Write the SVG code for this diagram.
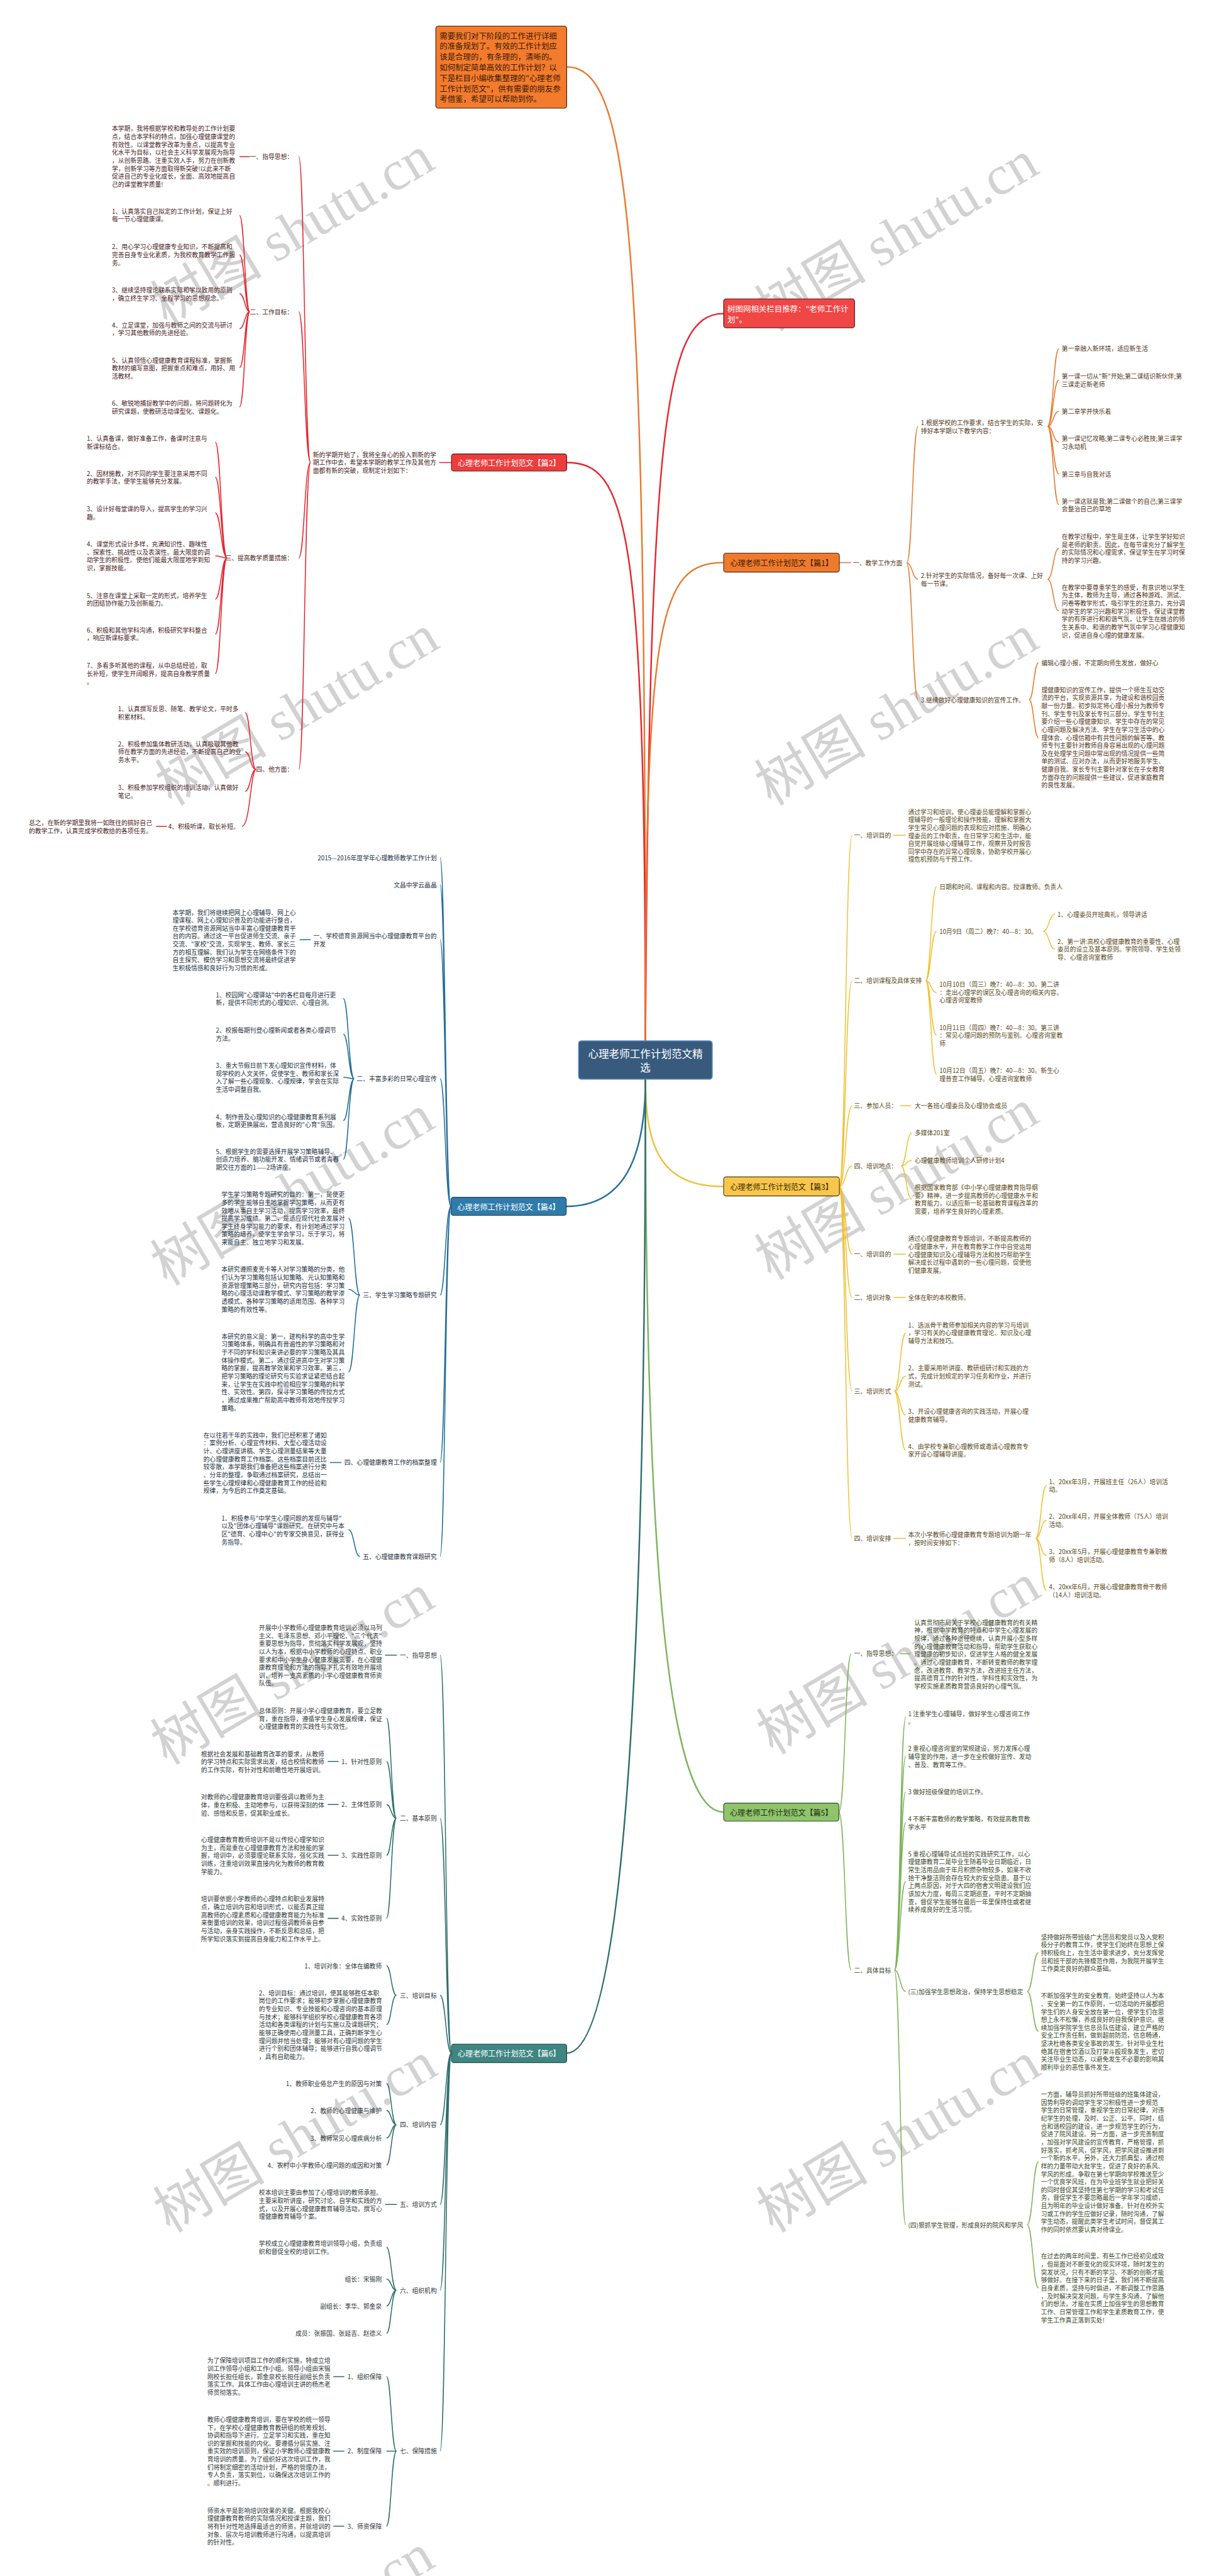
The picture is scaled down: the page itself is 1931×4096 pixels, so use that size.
<svg xmlns="http://www.w3.org/2000/svg" width="1931" height="4096" viewBox="0 0 1931 4096">
<style>
.t{font-family:"Noto Sans CJK SC","Microsoft YaHei","Liberation Sans",sans-serif;font-size:13px;dominant-baseline:central}
.e{text-anchor:end}
.cr{fill:#4a2424}.co{fill:#553618}.cy{fill:#5a4818}.cb{fill:#1e3344}.cg{fill:#3a4a2a}.ct{fill:#2e3a39}
.k{fill:none;stroke-width:2}.m{fill:none;stroke-width:3.2}
.sr{stroke:#e5262d}.so{stroke:#e8782c}.sy{stroke:#f0c035}.sb{stroke:#226e9a}.sg{stroke:#7db35a}.st{stroke:#2d6f6b}
.n{font-family:"Noto Sans CJK SC","Microsoft YaHei",sans-serif;font-size:16px;dominant-baseline:central;text-anchor:middle}
.wm{font-family:"Liberation Serif","Noto Sans CJK SC",serif;font-size:118px;fill:#d2d2d2}
</style>
<g transform="scale(0.754297)">
<rect x="0" y="0" width="2560" height="5429" fill="#ffffff"/>
<g id="watermark">
<text class="wm" transform="translate(352,690) rotate(-30.6)">树图 shutu.cn</text>
<text class="wm" transform="translate(362,1700) rotate(-30.6)">树图 shutu.cn</text>
<text class="wm" transform="translate(352,2712) rotate(-30.6)">树图 shutu.cn</text>
<text class="wm" transform="translate(352,3722) rotate(-30.6)">树图 shutu.cn</text>
<text class="wm" transform="translate(358,4708) rotate(-30.6)">树图 shutu.cn</text>
<text class="wm" transform="translate(352,5745) rotate(-30.6)">树图 shutu.cn</text>
<text class="wm" transform="translate(1626,700) rotate(-30.6)">树图 shutu.cn</text>
<text class="wm" transform="translate(1626,1700) rotate(-30.6)">树图 shutu.cn</text>
<text class="wm" transform="translate(1626,2700) rotate(-30.6)">树图 shutu.cn</text>
<text class="wm" transform="translate(1630,3700) rotate(-30.6)">树图 shutu.cn</text>
<text class="wm" transform="translate(1630,4708) rotate(-30.6)">树图 shutu.cn</text>
</g>
<g id="connectors">
<path class="m so" d="M1361,2194 C1361,500 1330,141 1195,141"/>
<path class="m sr" d="M1361,2194 C1370,900 1400,661 1526,661"/>
<path class="m sr" d="M1361,2194 C1361,1100 1320,975 1195,975"/>
<path class="m so" d="M1361,2194 C1361,1300 1390,1186 1526,1186"/>
<path class="m sy" d="M1361,2275 C1361,2430 1400,2501 1526,2501"/>
<path class="m sb" d="M1361,2275 C1361,2450 1310,2543 1194,2543"/>
<path class="m sg" d="M1361,2275 C1361,3400 1420,3820 1526,3820"/>
<path class="m st" d="M1361,2275 C1361,3700 1300,4328 1195,4328"/>
<path class="k sr" d="M952,975 H926 M527,330 H505 M352,1742 H329"/>
<path class="k sr" d="M655,975 C642,975 642,330 630,330 M655,975 C642,975 642,657 630,657 M655,975 C642,975 642,1176 630,1176 M655,975 C642,975 642,1622 630,1622"/>
<path class="k sr" d="M527,657 C516,657 516,454 505,454 M527,657 C516,657 516,537 505,537 M527,657 C516,657 516,619 505,619 M527,657 C516,657 516,693 505,693 M527,657 C516,657 516,775 505,775 M527,657 C516,657 516,858 505,858"/>
<path class="k sr" d="M479,1176 C466,1176 466,932 454,932 M479,1176 C466,1176 466,1006 454,1006 M479,1176 C466,1176 466,1081 454,1081 M479,1176 C466,1176 466,1172 454,1172 M479,1176 C466,1176 466,1263 454,1263 M479,1176 C466,1176 466,1337 454,1337 M479,1176 C466,1176 466,1420 454,1420"/>
<path class="k sr" d="M540,1622 C528,1622 528,1502 517,1502 M540,1622 C528,1622 528,1585 517,1585 M540,1622 C528,1622 528,1668 517,1668 M540,1622 C528,1622 528,1742 510,1742"/>
<path class="k so" d="M1770,1186 H1795"/>
<path class="k so" d="M1912,1187 C1924,1187 1924,899 1936,899 M1912,1187 C1924,1187 1924,1221 1936,1221 M1912,1187 C1924,1187 1924,1475 1936,1475"/>
<path class="k so" d="M2209,899 C2221,899 2221,735 2233,735 M2209,899 C2221,899 2221,801 2233,801 M2209,899 C2221,899 2221,867 2233,867 M2209,899 C2221,899 2221,932 2233,932 M2209,899 C2221,899 2221,999 2233,999 M2209,899 C2221,899 2221,1064 2233,1064"/>
<path class="k so" d="M2209,1221 C2221,1221 2221,1156 2233,1156 M2209,1221 C2221,1221 2221,1288 2233,1288"/>
<path class="k so" d="M2170,1475 C2180,1475 2180,1397 2190,1397 M2170,1475 C2180,1475 2180,1555 2190,1555"/>
<path class="k sy" d="M1770,2501 C1783,2501 1783,1761 1797,1761 M1770,2501 C1783,2501 1783,2067 1797,2067 M1770,2501 C1783,2501 1783,2331 1797,2331 M1770,2501 C1783,2501 1783,2458 1797,2458 M1770,2501 C1783,2501 1783,2644 1797,2644 M1770,2501 C1783,2501 1783,2735 1797,2735 M1770,2501 C1783,2501 1783,2933 1797,2933 M1770,2501 C1783,2501 1783,3243 1797,3243"/>
<path class="k sy" d="M1884,1761 H1910 M1898,2331 H1921 M1884,2644 H1910 M1884,2735 H1910 M1884,3243 H1910"/>
<path class="k sy" d="M1952,2067 C1963,2067 1963,1869 1975,1869 M1952,2067 C1963,2067 1963,1963 1975,1963 M1952,2067 C1963,2067 1963,2092 1975,2092 M1952,2067 C1963,2067 1963,2182 1975,2182 M1952,2067 C1963,2067 1963,2265 1975,2265"/>
<path class="k sy" d="M2200,1963 C2212,1963 2212,1927 2225,1927 M2200,1963 C2212,1963 2212,2001 2225,2001"/>
<path class="k sy" d="M1900,2458 C1911,2458 1911,2388 1923,2388 M1900,2458 C1911,2458 1911,2446 1923,2446 M1900,2458 C1911,2458 1911,2528 1923,2528"/>
<path class="k sy" d="M1886,2933 C1898,2933 1898,2810 1910,2810 M1886,2933 C1898,2933 1898,2901 1910,2901 M1886,2933 C1898,2933 1898,2983 1910,2983 M1886,2933 C1898,2933 1898,3057 1910,3057"/>
<path class="k sy" d="M2184,3243 C2195,3243 2195,3131 2207,3131 M2184,3243 C2195,3243 2195,3205 2207,3205 M2184,3243 C2195,3243 2195,3279 2207,3279 M2184,3243 C2195,3243 2195,3353 2207,3353"/>
<path class="k sb" d="M951,2543 C939,2543 939,1808 928,1808 M951,2543 C939,2543 939,1865 928,1865 M951,2543 C939,2543 939,1981 928,1981 M951,2543 C939,2543 939,2274 928,2274 M951,2543 C939,2543 939,2730 928,2730 M951,2543 C939,2543 939,3083 928,3083 M951,2543 C939,2543 939,3281 928,3281"/>
<path class="k sb" d="M655,1981 H632 M720,3083 H696"/>
<path class="k sb" d="M747,2274 C735,2274 735,2105 724,2105 M747,2274 C735,2274 735,2180 724,2180 M747,2274 C735,2274 735,2271 724,2271 M747,2274 C735,2274 735,2362 724,2362 M747,2274 C735,2274 735,2444 724,2444"/>
<path class="k sb" d="M759,2730 C747,2730 747,2568 735,2568 M759,2730 C747,2730 747,2718 735,2718 M759,2730 C747,2730 747,2892 735,2892"/>
<path class="k sb" d="M759,3281 C747,3281 747,3225 735,3225"/>
<path class="k sg" d="M1769,3820 C1782,3820 1782,3486 1795,3486 M1769,3820 C1782,3820 1782,4153 1795,4153"/>
<path class="k sg" d="M1898,3486 H1920"/>
<path class="k sg" d="M1886,4153 C1898,4153 1898,3620 1910,3620 M1886,4153 C1898,4153 1898,3702 1910,3702 M1886,4153 C1898,4153 1898,3777 1910,3777 M1886,4153 C1898,4153 1898,3842 1910,3842 M1886,4153 C1898,4153 1898,3966 1910,3966 M1886,4153 C1898,4153 1898,4198 1910,4198 M1886,4153 C1898,4153 1898,4690 1910,4690"/>
<path class="k sg" d="M2166,4198 C2178,4198 2178,4116 2190,4116 M2166,4198 C2178,4198 2178,4282 2190,4282"/>
<path class="k sg" d="M2166,4690 C2178,4690 2178,4557 2190,4557 M2166,4690 C2178,4690 2178,4823 2190,4823"/>
<path class="k st" d="M952,4328 C940,4328 940,3489 928,3489 M952,4328 C940,4328 940,3833 928,3833 M952,4328 C940,4328 940,4206 928,4206 M952,4328 C940,4328 940,4479 928,4479 M952,4328 C940,4328 940,4647 928,4647 M952,4328 C940,4328 940,4828 928,4828 M952,4328 C940,4328 940,5167 928,5167"/>
<path class="k st" d="M837,3489 H812 M714,3713 H691 M714,3804 H691 M714,3911 H691 M714,4044 H691 M837,4647 H812 M726,5010 H703 M726,5167 H703 M726,5325 H703"/>
<path class="k st" d="M836,3833 C825,3833 825,3622 815,3622 M836,3833 C825,3833 825,3713 815,3713 M836,3833 C825,3833 825,3804 815,3804 M836,3833 C825,3833 825,3911 815,3911 M836,3833 C825,3833 825,4044 815,4044"/>
<path class="k st" d="M836,4206 C825,4206 825,4144 815,4144 M836,4206 C825,4206 825,4268 815,4268"/>
<path class="k st" d="M836,4479 C825,4479 825,4392 815,4392 M836,4479 C825,4479 825,4449 815,4449 M836,4479 C825,4479 825,4507 815,4507 M836,4479 C825,4479 825,4564 815,4564"/>
<path class="k st" d="M836,4828 C825,4828 825,4737 815,4737 M836,4828 C825,4828 825,4804 815,4804 M836,4828 C825,4828 825,4861 815,4861 M836,4828 C825,4828 825,4919 815,4919"/>
<path class="k st" d="M836,5167 C825,5167 825,5010 815,5010 M836,5167 C825,5167 825,5167 815,5167 M836,5167 C825,5167 825,5325 815,5325"/>
</g>

<g id="center">
<rect x="1220" y="2194" width="282" height="81" rx="6" fill="#375a7d" stroke="#5d8fc4" stroke-width="2"/>
<text class="n" x="1361" y="2221" style="font-size:22px" fill="#ffffff">心理老师工作计划范文精</text>
<text class="n" x="1361" y="2250" style="font-size:22px" fill="#ffffff">选</text>
</g>

<g id="intro-note">
<rect x="919" y="55" width="276" height="173" rx="5" fill="#f37b2d" stroke="#3a1f0e" stroke-width="1.5"/>
<text class="t" x="927" y="75" style="font-size:16.5px" fill="#3b1a06">需要我们对下阶段的工作进行详细<tspan x="927" dy="22.3">的准备规划了。有效的工作计划应</tspan><tspan x="927" dy="22.3">该是合理的，有条理的，清晰的。</tspan><tspan x="927" dy="22.3">如何制定简单高效的工作计划？以</tspan><tspan x="927" dy="22.3">下是栏目小编收集整理的"心理老师</tspan><tspan x="927" dy="22.3">工作计划范文"，供有需要的朋友参</tspan><tspan x="927" dy="22.3">考借鉴，希望可以帮助到你。</tspan></text>
</g>

<g id="related">
<rect x="1526" y="630" width="276" height="61" rx="5" fill="#f04646" stroke="#4a1010" stroke-width="1.5"/>
<text class="t" x="1534" y="651" style="font-size:16.5px" fill="#ffffff">树图网相关栏目推荐："老师工作计<tspan x="1534" dy="22">划"。</tspan></text>
</g>

<g id="pian2">
<rect x="952" y="957" width="243" height="36" rx="5" fill="#ec3d3d" stroke="#6a1010" stroke-width="1.5"/>
<text class="n" x="1073.5" y="975" fill="#ffffff">心理老师工作计划范文【篇2】</text>
<text class="t cr" x="660" y="958">新的学期开始了，我将全身心的投入到新的学<tspan x="660" dy="16.75">期工作中去，希望本学期的教学工作及其他方</tspan><tspan x="660" dy="16.75">面都有新的突破，现制定计划如下：</tspan></text>
<text class="t cr e" x="618" y="330">一、指导思想：</text>
<text class="t cr e" x="618" y="657">二、工作目标：</text>
<text class="t cr e" x="618" y="1176">三、提高教学质量措施：</text>
<text class="t cr e" x="618" y="1622">四、他方面：</text>
<text class="t cr" x="236" y="271">本学期，我将根据学校和教导处的工作计划要<tspan x="236" dy="16.75">点，结合本学科的特点，加强心理健康课堂的</tspan><tspan x="236" dy="16.75">有效性。以课堂教学改革为重点，以提高专业</tspan><tspan x="236" dy="16.75">化水平为目标，以社会主义科学发展观为指导</tspan><tspan x="236" dy="16.75">，从创新思路、注重实效入手，努力在创新教</tspan><tspan x="236" dy="16.75">学，创新学习等方面取得新突破!以此来不断</tspan><tspan x="236" dy="16.75">促进自己的专业化成长，全面、高效地提高自</tspan><tspan x="236" dy="16.75">己的课堂教学质量!</tspan></text>
<text class="t cr" x="236" y="445">1、认真落实自己拟定的工作计划，保证上好<tspan x="236" dy="16.75">每一节心理健康课。</tspan></text>
<text class="t cr" x="236" y="520">2、用心学习心理健康专业知识，不断提高和<tspan x="236" dy="16.75">完善自身专业化素质，为我校教育教学工作服</tspan><tspan x="236" dy="16.75">务。</tspan></text>
<text class="t cr" x="236" y="611">3、继续坚持理论联系实际和学以致用的原则<tspan x="236" dy="16.75">，确立终生学习、全程学习的思想观念。</tspan></text>
<text class="t cr" x="236" y="685">4、立足课堂，加强与教师之间的交流与研讨<tspan x="236" dy="16.75">，学习其他教师的先进经验。</tspan></text>
<text class="t cr" x="236" y="759">5、认真领悟心理健康教育课程标准，掌握新<tspan x="236" dy="16.75">教材的编写意图，把握重点和难点，用好、用</tspan><tspan x="236" dy="16.75">活教材。</tspan></text>
<text class="t cr" x="236" y="850">6、敏锐地捕捉教学中的问题，将问题转化为<tspan x="236" dy="16.75">研究课题，使教研活动课型化、课题化。</tspan></text>
<text class="t cr" x="183" y="924">1、认真备课，做好准备工作，备课时注意与<tspan x="183" dy="16.75">新课标结合。</tspan></text>
<text class="t cr" x="183" y="998">2、因材施教，对不同的学生要注意采用不同<tspan x="183" dy="16.75">的教学手法，使学生能够充分发展。</tspan></text>
<text class="t cr" x="183" y="1073">3、设计好每堂课的导入，提高学生的学习兴<tspan x="183" dy="16.75">趣。</tspan></text>
<text class="t cr" x="183" y="1147">4、课堂形式设计多样，充满知识性、趣味性<tspan x="183" dy="16.75">、探索性、挑战性以及表演性。最大限度的调</tspan><tspan x="183" dy="16.75">动学生的积极性。使他们能最大限度地学到知</tspan><tspan x="183" dy="16.75">识，掌握技能。</tspan></text>
<text class="t cr" x="183" y="1255">5、注意在课堂上采取一定的形式，培养学生<tspan x="183" dy="16.75">的团结协作能力及创新能力。</tspan></text>
<text class="t cr" x="183" y="1328">6、积极和其他学科沟通，积极研究学科整合<tspan x="183" dy="16.75">，响应新课标要求。</tspan></text>
<text class="t cr" x="183" y="1403">7、多看多听其他的课程，从中总结经验，取<tspan x="183" dy="16.75">长补短，使学生开阔眼界，提高自身教学质量</tspan><tspan x="183" dy="16.75">。</tspan></text>
<text class="t cr" x="249" y="1494">1、认真撰写反思、随笔、教学论文，平时多<tspan x="249" dy="16.75">积累材料。</tspan></text>
<text class="t cr" x="249" y="1568">2、积极参加集体教研活动，认真吸取其他教<tspan x="249" dy="16.75">师在教学方面的先进经验，不断提高自己的业</tspan><tspan x="249" dy="16.75">务水平。</tspan></text>
<text class="t cr" x="249" y="1660">3、积极参加学校组织的培训活动，认真做好<tspan x="249" dy="16.75">笔记。</tspan></text>
<text class="t cr e" x="505" y="1742">4、积极听课，取长补短。</text>
<text class="t cr" x="61" y="1734">总之，在新的学期里我将一如既往的搞好自己<tspan x="61" dy="16.75">的教学工作，认真完成学校教给的各项任务。</tspan></text>
</g>

<g id="pian1">
<rect x="1526" y="1166" width="244" height="40" rx="5" fill="#f07a2c" stroke="#4a2a10" stroke-width="1.5"/>
<text class="n" x="1648" y="1186" fill="#3a1a05">心理老师工作计划范文【篇1】</text>
<text class="t co" x="1799" y="1187">一、教学工作方面</text>
<text class="t co" x="1942" y="891">1.根据学校的工作要求，结合学生的实际，安<tspan x="1942" dy="16.75">排好本学期以下教学内容：</tspan></text>
<text class="t co" x="1942" y="1213">2.针对学生的实际情况，备好每一次课、上好<tspan x="1942" dy="16.75">每一节课。</tspan></text>
<text class="t co" x="1942" y="1475">3.继续做好心理健康知识的宣传工作。</text>
<text class="t co" x="2239" y="735">第一章融入新环境，适应新生活</text>
<text class="t co" x="2239" y="793">第一课一切从"新"开始;第二课结识新伙伴;第<tspan x="2239" dy="16.75">三课走近新老师</tspan></text>
<text class="t co" x="2239" y="867">第二章学并快乐着</text>
<text class="t co" x="2239" y="924">第一课记忆攻略;第二课专心必胜技;第三课学<tspan x="2239" dy="16.75">习永动机</tspan></text>
<text class="t co" x="2239" y="999">第三章与自我对话</text>
<text class="t co" x="2239" y="1056">第一课这就是我;第二课做个的自己;第三课学<tspan x="2239" dy="16.75">会整治自己的草地</tspan></text>
<text class="t co" x="2239" y="1131">在教学过程中，学生是主体，让学生学好知识<tspan x="2239" dy="16.75">是老师的职责。因此，在每节课充分了解学生</tspan><tspan x="2239" dy="16.75">的实际情况和心理需求，保证学生在学习时保</tspan><tspan x="2239" dy="16.75">持的学习兴趣。</tspan></text>
<text class="t co" x="2239" y="1238">在教学中要尊重学生的感受，有意识地以学生<tspan x="2239" dy="16.75">为主体，教师为主导，通过各种游戏、测试、</tspan><tspan x="2239" dy="16.75">问卷等教学形式，吸引学生的注意力，充分调</tspan><tspan x="2239" dy="16.75">动学生的学习兴趣和学习积极性，保证课堂教</tspan><tspan x="2239" dy="16.75">学的有序进行和和谐气氛，让学生在融洽的师</tspan><tspan x="2239" dy="16.75">生关系中、和谐的教学气氛中学习心理健康知</tspan><tspan x="2239" dy="16.75">识，促进自身心理的健康发展。</tspan></text>
<text class="t co" x="2196" y="1397">编辑心理小报，不定期向师生发放，做好心</text>
<text class="t co" x="2196" y="1454">理健康知识的宣传工作，提供一个师生互动交<tspan x="2196" dy="16.75">流的平台，实现资源共享，为建设和谐校园贡</tspan><tspan x="2196" dy="16.75">献一份力量。初步拟定将心理小报分为教师专</tspan><tspan x="2196" dy="16.75">刊、学生专刊及家长专刊三部分。学生专刊主</tspan><tspan x="2196" dy="16.75">要介绍一些心理健康知识、学生中存在的常见</tspan><tspan x="2196" dy="16.75">心理问题及解决方法、学生在学习生活中的心</tspan><tspan x="2196" dy="16.75">理体会、心理信箱中有共性问题的解答等。教</tspan><tspan x="2196" dy="16.75">师专刊主要针对教师自身容易出现的心理问题</tspan><tspan x="2196" dy="16.75">及在处理学生问题中常出现的情况提供一些简</tspan><tspan x="2196" dy="16.75">单的测试、应对办法，从而更好地服务学生、</tspan><tspan x="2196" dy="16.75">健康自我。家长专刊主要针对家长在子女教育</tspan><tspan x="2196" dy="16.75">方面存在的问题提供一些建议，促进家庭教育</tspan><tspan x="2196" dy="16.75">的良性发展。</tspan></text>
</g>

<g id="pian3">
<rect x="1526" y="2481" width="244" height="40" rx="5" fill="#f8c64a" stroke="#4a3a10" stroke-width="1.5"/>
<text class="n" x="1648" y="2501" fill="#3a2a05">心理老师工作计划范文【篇3】</text>
<text class="t cy" x="1801" y="1761">一、培训目的</text>
<text class="t cy" x="1801" y="2067">二、培训课程及具体安排</text>
<text class="t cy" x="1801" y="2331">三、参加人员：</text>
<text class="t cy" x="1801" y="2458">四、培训地点：</text>
<text class="t cy" x="1801" y="2644">一、培训目的</text>
<text class="t cy" x="1801" y="2735">二、培训对象</text>
<text class="t cy" x="1801" y="2933">三、培训形式</text>
<text class="t cy" x="1801" y="3243">四、培训安排</text>
<text class="t cy" x="1915" y="1711">通过学习和培训，使心理委员能理解和掌握心<tspan x="1915" dy="16.75">理辅导的一般理论和操作技能，理解和掌握大</tspan><tspan x="1915" dy="16.75">学生常见心理问题的表现和应对措施，明确心</tspan><tspan x="1915" dy="16.75">理委员的工作职责，在日常学习和生活中，能</tspan><tspan x="1915" dy="16.75">自觉开展班级心理辅导工作，观察并及时报告</tspan><tspan x="1915" dy="16.75">同学中存在的异常心理现象，协助学校开展心</tspan><tspan x="1915" dy="16.75">理危机预防与干预工作。</tspan></text>
<text class="t cy" x="1981" y="1869">日期和时间。课程和内容。授课教师。负责人</text>
<text class="t cy" x="1981" y="1963">10月9日（周二）晚7：40—8：30。</text>
<text class="t cy" x="2230" y="1927">1、心理委员开班典礼，领导讲话</text>
<text class="t cy" x="2230" y="1984">2、第一讲:高校心理健康教育的重要性、心理<tspan x="2230" dy="16.75">委员的设立及基本原则。学院领导、学生处领</tspan><tspan x="2230" dy="16.75">导、心理咨询室教师</tspan></text>
<text class="t cy" x="1981" y="2075">10月10日（周三）晚7：40—8：30。第二讲<tspan x="1981" dy="16.75">：走出心理学的误区及心理咨询的相关内容。</tspan><tspan x="1981" dy="16.75">心理咨询室教师</tspan></text>
<text class="t cy" x="1981" y="2166">10月11日（周四）晚7：40—8：30。第三讲<tspan x="1981" dy="16.75">：常见心理问题的预防与鉴别。心理咨询室教</tspan><tspan x="1981" dy="16.75">师</tspan></text>
<text class="t cy" x="1981" y="2257">10月12日（周五）晚7：40—8：30。新生心<tspan x="1981" dy="16.75">理普查工作辅导。心理咨询室教师</tspan></text>
<text class="t cy" x="1929" y="2331">大一各班心理委员及心理协会成员</text>
<text class="t cy" x="1929" y="2388">多媒体201室</text>
<text class="t cy" x="1929" y="2446">心理健康教师培训个人研修计划4</text>
<text class="t cy" x="1929" y="2503">根据国家教育部《中小学心理健康教育指导纲<tspan x="1929" dy="16.75">要》精神，进一步提高教师的心理健康水平和</tspan><tspan x="1929" dy="16.75">教育能力，以适应新一轮基础教育课程改革的</tspan><tspan x="1929" dy="16.75">需要，培养学生良好的心理素质。</tspan></text>
<text class="t cy" x="1915" y="2611">通过心理健康教育专题培训，不断提高教师的<tspan x="1915" dy="16.75">心理健康水平，并在教育教学工作中自觉运用</tspan><tspan x="1915" dy="16.75">心理健康知识及心理辅导方法和技巧帮助学生</tspan><tspan x="1915" dy="16.75">解决成长过程中遇到的一些心理问题，促使他</tspan><tspan x="1915" dy="16.75">们健康发展。</tspan></text>
<text class="t cy" x="1915" y="2735">全体在职的本校教师。</text>
<text class="t cy" x="1915" y="2793">1、选派骨干教师参加相关内容的学习与培训<tspan x="1915" dy="16.75">，学习有关的心理健康教育理论、知识及心理</tspan><tspan x="1915" dy="16.75">辅导方法和技巧。</tspan></text>
<text class="t cy" x="1915" y="2884">2、主要采用听讲座、教研组研讨和实践的方<tspan x="1915" dy="16.75">式，完成计划规定的学习任务和作业，并进行</tspan><tspan x="1915" dy="16.75">测试。</tspan></text>
<text class="t cy" x="1915" y="2975">3、开设心理健康咨询的实践活动，开展心理<tspan x="1915" dy="16.75">健康教育辅导。</tspan></text>
<text class="t cy" x="1915" y="3049">4、由学校专兼职心理教师或邀请心理教育专<tspan x="1915" dy="16.75">家开设心理辅导讲座。</tspan></text>
<text class="t cy" x="1915" y="3235">本次小学教师心理健康教育专题培训为期一年<tspan x="1915" dy="16.75">，按时间安排如下：</tspan></text>
<text class="t cy" x="2212" y="3123">1、20xx年3月，开展班主任（26人）培训活<tspan x="2212" dy="16.75">动。</tspan></text>
<text class="t cy" x="2212" y="3197">2、20xx年4月，开展全体教师（75人）培训<tspan x="2212" dy="16.75">活动。</tspan></text>
<text class="t cy" x="2212" y="3271">3、20xx年5月，开展心理健康教育专兼职教<tspan x="2212" dy="16.75">师（8人）培训活动。</tspan></text>
<text class="t cy" x="2212" y="3345">4、20xx年6月，开展心理健康教育骨干教师<tspan x="2212" dy="16.75">（14人）培训活动。</tspan></text>
</g>

<g id="pian4">
<rect x="951" y="2524" width="243" height="38" rx="5" fill="#2f7cab" stroke="#1a3a50" stroke-width="1.5"/>
<text class="n" x="1072.5" y="2543" fill="#ffffff">心理老师工作计划范文【篇4】</text>
<text class="t cb e" x="921" y="1808">2015—2016年度学年心理教师教学工作计划</text>
<text class="t cb e" x="921" y="1865">文昌中学云晶晶</text>
<text class="t cb" x="661" y="1973">一、学校德育资源网当中心理健康教育平台的<tspan x="661" dy="16.75">开发</tspan></text>
<text class="t cb e" x="921" y="2274">二、丰富多彩的日常心理宣传</text>
<text class="t cb e" x="921" y="2730">三、学生学习策略专题研究</text>
<text class="t cb e" x="921" y="3083">四、心理健康教育工作的档案整理</text>
<text class="t cb e" x="921" y="3281">五、心理健康教育课题研究</text>
<text class="t cb" x="364" y="1923">本学期，我们将继续把网上心理辅导、网上心<tspan x="364" dy="16.75">理课程、网上心理知识普及的功能进行整合，</tspan><tspan x="364" dy="16.75">在学校德育资源网站当中丰富心理健康教育平</tspan><tspan x="364" dy="16.75">台的内容。通过这一平台促进师生交流、亲子</tspan><tspan x="364" dy="16.75">交流、"家校"交流，实现学生、教师、家长三</tspan><tspan x="364" dy="16.75">方的相互理解。我们认为学生在网络条件下的</tspan><tspan x="364" dy="16.75">自主探究、模仿学习和思想交流将最终促进学</tspan><tspan x="364" dy="16.75">生积极情感和良好行为习惯的形成。</tspan></text>
<text class="t cb" x="455" y="2097">1、校园网"心理驿站"中的各栏目每月进行更<tspan x="455" dy="16.75">新，提供不同形式的心理知识、心理自测。</tspan></text>
<text class="t cb" x="455" y="2172">2、校报每期刊登心理新闻或者各类心理调节<tspan x="455" dy="16.75">方法。</tspan></text>
<text class="t cb" x="455" y="2246">3、重大节假日前下发心理知识宣传材料，体<tspan x="455" dy="16.75">现学校的人文关怀，促使学生、教师和家长深</tspan><tspan x="455" dy="16.75">入了解一些心理现象、心理规律，学会在实际</tspan><tspan x="455" dy="16.75">生活中调整自我。</tspan></text>
<text class="t cb" x="455" y="2354">4、制作普及心理知识的心理健康教育系列展<tspan x="455" dy="16.75">板，定期更换展出，营造良好的"心育"氛围。</tspan></text>
<text class="t cb" x="455" y="2427">5、根据学生的需要选择开展学习策略辅导、<tspan x="455" dy="16.75">创造力培养、脑功能开发、情绪调节或者青春</tspan><tspan x="455" dy="16.75">期交往方面的1——2场讲座。</tspan></text>
<text class="t cb" x="467" y="2518">学生学习策略专题研究的目的：第一，是使更<tspan x="467" dy="16.75">多的学生能够自主地掌握学习策略，从而更有</tspan><tspan x="467" dy="16.75">效地从事自主学习活动，提高学习效率，最终</tspan><tspan x="467" dy="16.75">提高学习成绩。第二，是适应现代社会发展对</tspan><tspan x="467" dy="16.75">学生终身学习能力的要求，有计划地通过学习</tspan><tspan x="467" dy="16.75">策略的培养，使学生学会学习，乐于学习，将</tspan><tspan x="467" dy="16.75">来能自主、独立地学习和发展。</tspan></text>
<text class="t cb" x="467" y="2676">本研究遵照麦克卡等人对学习策略的分类，他<tspan x="467" dy="16.75">们认为学习策略包括认知策略、元认知策略和</tspan><tspan x="467" dy="16.75">资源管理策略三部分，研究内容包括：学习策</tspan><tspan x="467" dy="16.75">略的心理活动课教学模式、学习策略的教学渗</tspan><tspan x="467" dy="16.75">透模式、各种学习策略的适用范围、各种学习</tspan><tspan x="467" dy="16.75">策略的有效性等。</tspan></text>
<text class="t cb" x="467" y="2817">本研究的意义是：第一，建构科学的高中生学<tspan x="467" dy="16.75">习策略体系，明确具有普遍性的学习策略和对</tspan><tspan x="467" dy="16.75">于不同的学科知识来讲必要的学习策略及其具</tspan><tspan x="467" dy="16.75">体操作模式。第二，通过促进高中生对学习策</tspan><tspan x="467" dy="16.75">略的掌握，提高教学效果和学习效率。第三，</tspan><tspan x="467" dy="16.75">把学习策略的理论研究与实验求证紧密结合起</tspan><tspan x="467" dy="16.75">来，让学生在实践中检验相应学习策略的科学</tspan><tspan x="467" dy="16.75">性、实效性。第四，探寻学习策略的传授方式</tspan><tspan x="467" dy="16.75">，通过成果推广帮助高中教师有效地传授学习</tspan><tspan x="467" dy="16.75">策略。</tspan></text>
<text class="t cb" x="429" y="3025">在以往若干年的实践中，我们已经积累了诸如<tspan x="429" dy="16.75">：案例分析、心理宣传材料、大型心理活动设</tspan><tspan x="429" dy="16.75">计、心理讲座讲稿、学生心理测量结果等大量</tspan><tspan x="429" dy="16.75">的心理健康教育工作档案。这些档案目前还比</tspan><tspan x="429" dy="16.75">较零散，本学期我们准备把这些档案进行分类</tspan><tspan x="429" dy="16.75">、分年的整理，争取通过档案研究，总结出一</tspan><tspan x="429" dy="16.75">些学生心理规律和心理健康教育工作的经验和</tspan><tspan x="429" dy="16.75">规律，为今后的工作奠定基础。</tspan></text>
<text class="t cb" x="467" y="3200">1、积极参与"中学生心理问题的发现与辅导"<tspan x="467" dy="16.75">以及"团体心理辅导"课题研究。在研究中与本</tspan><tspan x="467" dy="16.75">区"德育、心理中心"的专家交换意见，获得业</tspan><tspan x="467" dy="16.75">务指导。</tspan></text>
</g>

<g id="pian5">
<rect x="1526" y="3801" width="243" height="38" rx="5" fill="#8fc46c" stroke="#2a4a1a" stroke-width="1.5"/>
<text class="n" x="1647.5" y="3820" fill="#1e2e12">心理老师工作计划范文【篇5】</text>
<text class="t cg" x="1801" y="3486">一、指导思想：</text>
<text class="t cg" x="1801" y="4153">二、具体目标</text>
<text class="t cg" x="1928" y="3420">认真贯彻市局关于学校心理健康教育的有关精<tspan x="1928" dy="16.75">神，根据中学教育的特点和中学生心理发展的</tspan><tspan x="1928" dy="16.75">规律，通过各种途径继续，认真开展小型多样</tspan><tspan x="1928" dy="16.75">的心理健康教育活动和指导，帮助学生获取心</tspan><tspan x="1928" dy="16.75">理健康的初步知识，促进学生人格的健全发展</tspan><tspan x="1928" dy="16.75">。通过心理健康教育，不断转变教师的教学理</tspan><tspan x="1928" dy="16.75">念，改进教育、教学方法，改进班主任方法，</tspan><tspan x="1928" dy="16.75">提高德育工作的针对性，学科性和实效性，为</tspan><tspan x="1928" dy="16.75">学校实施素质教育营造良好的心理气氛。</tspan></text>
<text class="t cg" x="1915" y="3612">1 注重学生心理辅导，做好学生心理咨询工作<tspan x="1915" dy="16.75">。</tspan></text>
<text class="t cg" x="1915" y="3686">2 重视心理咨询室的常规建设，努力发挥心理<tspan x="1915" dy="16.75">辅导室的作用，进一步在全校做好宣传、发动</tspan><tspan x="1915" dy="16.75">、普及、教育等工作。</tspan></text>
<text class="t cg" x="1915" y="3777">3 做好班级保健的培训工作。</text>
<text class="t cg" x="1915" y="3834">4 不断丰富教师的教学策略，有效提高教育教<tspan x="1915" dy="16.75">学水平</tspan></text>
<text class="t cg" x="1915" y="3908">5 重视心理辅导试点班的实践研究工作，以心<tspan x="1915" dy="16.75">理健康教育二是毕业生随着毕业日期临近，日</tspan><tspan x="1915" dy="16.75">常生活用品由于年月积攒杂物较多，如果不收</tspan><tspan x="1915" dy="16.75">拾干净整洁则会存在较大的安全隐患。基于以</tspan><tspan x="1915" dy="16.75">上两点原因，对于大四的宿舍文明建设我们应</tspan><tspan x="1915" dy="16.75">该加大力度，每周三定期巡查，平时不定期抽</tspan><tspan x="1915" dy="16.75">查，督促学生能够在最后一年里保持住或者继</tspan><tspan x="1915" dy="16.75">续养成良好的生活习惯。</tspan></text>
<text class="t cg" x="1915" y="4198">(三)加强学生思想政治，保持学生思想稳定</text>
<text class="t cg" x="1915" y="4690">(四)狠抓学生管理，形成良好的院风和学风</text>
<text class="t cg" x="2195" y="4083">坚持做好所带班级广大团员和党员以及入党积<tspan x="2195" dy="16.75">极分子的教育工作，使学生们始终在思想上保</tspan><tspan x="2195" dy="16.75">持积极向上，在生活中要求进步，充分发挥党</tspan><tspan x="2195" dy="16.75">员和班干部的先锋模范作用，为我院开展学生</tspan><tspan x="2195" dy="16.75">工作奠定良好的群众基础。</tspan></text>
<text class="t cg" x="2195" y="4207">不断加强学生的安全教育。始终坚持以人为本<tspan x="2195" dy="16.75">、安全第一的工作原则，一切活动的开展都把</tspan><tspan x="2195" dy="16.75">学生们的人身安全放在第一位，使学生们在思</tspan><tspan x="2195" dy="16.75">想上永不松懈，养成良好的自我保护意识。继</tspan><tspan x="2195" dy="16.75">续加强学院学生信息员队伍建设，建立严格的</tspan><tspan x="2195" dy="16.75">安全工作责任制，做到超前防范，信息畅通，</tspan><tspan x="2195" dy="16.75">坚决杜绝各类安全事故的发生。针对毕业生杜</tspan><tspan x="2195" dy="16.75">绝其在宿舍饮酒以及打架斗殴现象发生，密切</tspan><tspan x="2195" dy="16.75">关注毕业生动态，以避免发生不必要的影响其</tspan><tspan x="2195" dy="16.75">顺利毕业的恶性事件发生。</tspan></text>
<text class="t cg" x="2195" y="4415">一方面，辅导员抓好所带班级的班集体建设，<tspan x="2195" dy="16.75">因势利导的调动学生学习积极性进一步规范</tspan><tspan x="2195" dy="16.75">学生的日常管理，重视学生的日常纪律，对违</tspan><tspan x="2195" dy="16.75">纪学生的处理，及时、公正、公平。同时，结</tspan><tspan x="2195" dy="16.75">合和谐校园的建设，进一步规范学生的行为，</tspan><tspan x="2195" dy="16.75">促进了院风建设。另一方面，进一步完善制度</tspan><tspan x="2195" dy="16.75">，加强对学风建设的宣传教育，严格管理，抓</tspan><tspan x="2195" dy="16.75">好落实，抓考风，促学风，把学风建设推进到</tspan><tspan x="2195" dy="16.75">一个新的水平。另外，还大力抓典型，通过榜</tspan><tspan x="2195" dy="16.75">样的力量带动大批学生，促进了良好的系风、</tspan><tspan x="2195" dy="16.75">学风的形成。争取在第七学期向学校推送至少</tspan><tspan x="2195" dy="16.75">一个优良学风班，在为毕业班学生就业把好关</tspan><tspan x="2195" dy="16.75">的同时督促其坚持住第七学期的学习和考试任</tspan><tspan x="2195" dy="16.75">务，督促学生不要忽略最后一学年学习成绩，</tspan><tspan x="2195" dy="16.75">且为明年的毕业设计做好准备。针对在校外实</tspan><tspan x="2195" dy="16.75">习或工作的学生应做好记录，随时沟通，了解</tspan><tspan x="2195" dy="16.75">学生动态，提醒此类学生考试时间，督促其工</tspan><tspan x="2195" dy="16.75">作的同时依然要认真对待课业。</tspan></text>
<text class="t cg" x="2195" y="4756">在过去的两年时间里，有些工作已经初见成效<tspan x="2195" dy="16.75">，但是面对不断变化的现实环境，随时发生的</tspan><tspan x="2195" dy="16.75">突发状况，只有不断的学习、不断的创新才能</tspan><tspan x="2195" dy="16.75">够做好。在接下来的日子里，我们将不断提高</tspan><tspan x="2195" dy="16.75">自身素质，坚持与时俱进，不断调整工作思路</tspan><tspan x="2195" dy="16.75">，及时解决突发问题，与学生多沟通，了解他</tspan><tspan x="2195" dy="16.75">们的想法，才能在实质上加强学生的思想教育</tspan><tspan x="2195" dy="16.75">工作、日常管理工作和学生素质教育工作，使</tspan><tspan x="2195" dy="16.75">学生工作真正落到实处!</tspan></text>
</g>

<g id="pian6">
<rect x="952" y="4309" width="243" height="39" rx="5" fill="#3f8682" stroke="#1e4240" stroke-width="1.5"/>
<text class="n" x="1073.5" y="4328" fill="#ffffff">心理老师工作计划范文【篇6】</text>
<text class="t ct e" x="921" y="3489">一、指导思想</text>
<text class="t ct e" x="921" y="3833">二、基本原则</text>
<text class="t ct e" x="921" y="4206">三、培训目标</text>
<text class="t ct e" x="921" y="4479">四、培训内容</text>
<text class="t ct e" x="921" y="4647">五、培训方式</text>
<text class="t ct e" x="921" y="4828">六、组织机构</text>
<text class="t ct e" x="921" y="5167">七、保障措施</text>
<text class="t ct" x="546" y="3431">开展中小学教师心理健康教育培训必须以马列<tspan x="546" dy="16.75">主义、毛泽东思想、邓小平理论、"三个代表"</tspan><tspan x="546" dy="16.75">重要思想为指导，贯彻落实科学发展观，坚持</tspan><tspan x="546" dy="16.75">以人为本，根据中小学教师的心理特点、职业</tspan><tspan x="546" dy="16.75">要求和中小学生身心健康发展需要，在心理健</tspan><tspan x="546" dy="16.75">康教育理论和方法的指导下扎实有效地开展培</tspan><tspan x="546" dy="16.75">训，培养一支高素质的小学心理健康教育师资</tspan><tspan x="546" dy="16.75">队伍。</tspan></text>
<text class="t ct" x="546" y="3606">总体原则：开展小学心理健康教育，要立足教<tspan x="546" dy="16.75">育，重在指导，遵循学生身心发展规律，保证</tspan><tspan x="546" dy="16.75">心理健康教育的实践性与实效性。</tspan></text>
<text class="t ct e" x="805" y="3713">1、针对性原则</text>
<text class="t ct e" x="805" y="3804">2、主体性原则</text>
<text class="t ct e" x="805" y="3911">3、实践性原则</text>
<text class="t ct e" x="805" y="4044">4、实效性原则</text>
<text class="t ct" x="424" y="3697">根据社会发展和基础教育改革的要求，从教师<tspan x="424" dy="16.75">的学习特点和实际需求出发，结合校情和教师</tspan><tspan x="424" dy="16.75">的工作实际，有针对性和前瞻性地开展培训。</tspan></text>
<text class="t ct" x="424" y="3788">对教师的心理健康教育培训要强调以教师为主<tspan x="424" dy="16.75">体，重在积极、主动地参与，以获得深刻的体</tspan><tspan x="424" dy="16.75">验、感悟和反思，促其职业成长。</tspan></text>
<text class="t ct" x="424" y="3878">心理健康教育教师培训不是以传授心理学知识<tspan x="424" dy="16.75">为主，而是重在心理健康教育方法和技能的掌</tspan><tspan x="424" dy="16.75">握，培训中，必须要理论联系实际，强化实践</tspan><tspan x="424" dy="16.75">训练，注重培训效果直接内化为教师的教育教</tspan><tspan x="424" dy="16.75">学能力。</tspan></text>
<text class="t ct" x="424" y="4003">培训要依据小学教师的心理特点和职业发展特<tspan x="424" dy="16.75">点，确立培训内容和培训形式，以能否真正提</tspan><tspan x="424" dy="16.75">高教师的心理素质和心理健康教育能力为标准</tspan><tspan x="424" dy="16.75">来衡量培训的效果，培训过程强调教师亲自参</tspan><tspan x="424" dy="16.75">与活动，亲身实践操作，不断反思和总结，把</tspan><tspan x="424" dy="16.75">所学知识落实到提高自身能力和工作水平上。</tspan></text>
<text class="t ct e" x="805" y="4144">1、培训对象：全体在编教师</text>
<text class="t ct" x="546" y="4201">2、培训目标：通过培训，使其能够胜任本职<tspan x="546" dy="16.75">岗位的工作要求；能够初步掌握心理健康教育</tspan><tspan x="546" dy="16.75">的专业知识、专业技能和心理咨询的基本原理</tspan><tspan x="546" dy="16.75">与技术；能够科学组织学校心理健康教育各项</tspan><tspan x="546" dy="16.75">活动和各类课程的计划与实施以及课题研究；</tspan><tspan x="546" dy="16.75">能够正确使用心理测量工具，正确判断学生心</tspan><tspan x="546" dy="16.75">理问题并恰当处理；能够对有心理问题的学生</tspan><tspan x="546" dy="16.75">进行个别和团体辅导；能够进行自我心理调节</tspan><tspan x="546" dy="16.75">，具有自助能力。</tspan></text>
<text class="t ct e" x="805" y="4392">1、教师职业倦怠产生的原因与对策</text>
<text class="t ct e" x="805" y="4449">2、教师的心理健康与维护</text>
<text class="t ct e" x="805" y="4507">3、教师常见心理疾病分析</text>
<text class="t ct e" x="805" y="4564">4、农村中小学教师心理问题的成因和对策</text>
<text class="t ct" x="546" y="4622">校本培训主要由参加了心理培训的教师承担。<tspan x="546" dy="16.75">主要采取听讲座，研究讨论、自学和实践的方</tspan><tspan x="546" dy="16.75">式，以及开展心理健康教育辅导活动，撰写心</tspan><tspan x="546" dy="16.75">理健康教育辅导个案。</tspan></text>
<text class="t ct" x="546" y="4729">学校成立心理健康教育培训领导小组，负责组<tspan x="546" dy="16.75">织和督促全校的培训工作。</tspan></text>
<text class="t ct e" x="805" y="4804">组长：宋锡刚</text>
<text class="t ct e" x="805" y="4861">副组长：李华、郭金泉</text>
<text class="t ct e" x="805" y="4919">成员：张振国、张延吉、赵德义</text>
<text class="t ct e" x="805" y="5010">1、组织保障</text>
<text class="t ct e" x="805" y="5167">2、制度保障</text>
<text class="t ct e" x="805" y="5325">3、师资保障</text>
<text class="t ct" x="437" y="4976">为了保障培训项目工作的顺利实施，特成立培<tspan x="437" dy="16.75">训工作领导小组和工作小组。领导小组由宋锡</tspan><tspan x="437" dy="16.75">刚校长担任组长，郭金泉校长担任副组长负责</tspan><tspan x="437" dy="16.75">落实工作。具体工作由心理培训主讲的杨杰老</tspan><tspan x="437" dy="16.75">师贯彻落实。</tspan></text>
<text class="t ct" x="437" y="5100">教师心理健康教育培训，要在学校的统一领导<tspan x="437" dy="16.75">下，在学校心理健康教育教研组的统筹规划、</tspan><tspan x="437" dy="16.75">协调和指导下进行。立足学习和实践，重在知</tspan><tspan x="437" dy="16.75">识的掌握和技能的内化。要遵循分层实施、注</tspan><tspan x="437" dy="16.75">重实效的培训原则，保证小学教师心理健康教</tspan><tspan x="437" dy="16.75">育培训的质量。为了组织好这次培训工作，我</tspan><tspan x="437" dy="16.75">们将制定细密的活动计划，严格的管理办法，</tspan><tspan x="437" dy="16.75">专人负责，落实到位，以确保这次培训工作的</tspan><tspan x="437" dy="16.75">。顺利进行。</tspan></text>
<text class="t ct" x="437" y="5292">师资水平是影响培训效果的关键。根据我校心<tspan x="437" dy="16.75">理健康教育教师的实际情况和授课主题，我们</tspan><tspan x="437" dy="16.75">将有针对性地选择最适合的师资，并就培训的</tspan><tspan x="437" dy="16.75">对象、层次与培训教师进行沟通，以提高培训</tspan><tspan x="437" dy="16.75">的针对性。</tspan></text>
</g>
</g>
</svg>
